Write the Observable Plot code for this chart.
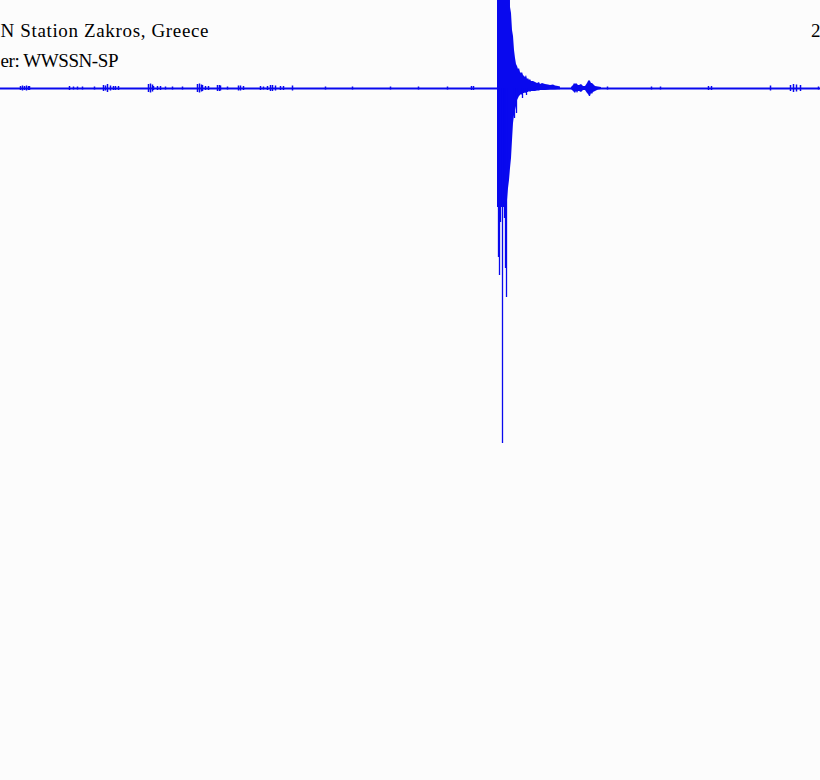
<!DOCTYPE html>
<html>
<head>
<meta charset="utf-8">
<script src="https://cdn.jsdelivr.net/npm/d3@7"></script>
<script src="https://cdn.jsdelivr.net/npm/@observablehq/plot@0.6"></script>
<style>
  html, body { margin: 0; padding: 0; background: #fcfcfc; }
  #chart svg { display: block; }
</style>
</head>
<body>
<div id="chart"></div>
<script>
// ---- Text ----
const titleText = "N Station Zakros, Greece";
const filterText = "er: WWSSN-SP";
const cornerText = "2";

// ---- Time window (s) and amplitude window (counts) ----
const timeDomain = [0, 820];
const ampDomain = [-692, 88];

// ---- Main event envelope (time, upper, lower) ----
const envT  = [497, 505, 507, 508, 509, 509.6, 510, 511, 512, 513, 514, 515, 516, 517, 518, 519, 520, 521, 522, 523, 524, 525, 526, 527, 528, 529, 530, 531, 533, 535, 537, 539, 540, 542, 545, 548, 550, 553, 555, 558, 560];
const envHi = [200, 200, 200, 200, 200, 200, 81, 75, 58, 52, 38, 30, 24, 22, 19, 20, 16, 15, 16, 13, 12, 11, 13, 9, 10, 8, 9, 7, 7, 6, 5, 6, 4, 5, 4, 3.5, 3, 3.5, 2.5, 2, 1.5];
const envLo = [-119, -119, -112, -100, -92, -85, -80, -70, -52, -35, -27, -22, -18, -12, -10, -8, -7, -6, -7, -5, -5, -4.5, -5, -4, -4, -3, -4, -3, -3, -3, -2.5, -2.5, -2, -2, -2, -1.8, -1.6, -1.5, -1.4, -1.3, -1.2];

// ---- Single downward spikes of the main event ----
const spikeT  = [498, 499, 500, 502, 504, 505, 506, 514, 516, 522, 526];
const spikeLo = [-169, -187, -134, -355, -130, -180, -209, -30, -25, -10, -7];

// ---- Later arrival burst ----
const burstT  = [571, 573, 574, 575, 576, 577, 578, 579, 581, 583, 585, 587, 588, 589, 590, 591, 592, 593, 595, 598, 601];
const burstHi = [1, 3, 5, 4, 5, 4, 3, 3, 4, 2, 2, 5, 7, 8, 7, 5, 5, 4, 2, 1.5, 1];
const burstLo = [-1, -3, -4, -5, -3, -5, -3, -3, -4, -2, -2, -5, -6, -8, -8, -5, -6, -4, -3, -1.5, -1];

// ---- Background noise blips (time, half amplitude) ----
const blipT   = [20, 22, 24, 26, 28, 29, 69, 73, 77, 82, 94, 103, 105, 107, 110, 113, 115, 118,
                 148, 150, 152, 153, 157, 160, 165, 172, 182, 197, 199, 201, 202, 205, 208, 217, 219, 220, 227, 238, 240, 243,
                 260, 263, 267, 270, 272, 275, 280, 283, 292, 325, 352, 390, 418, 447, 471, 473,
                 607, 651, 660, 708, 711, 770, 790, 793, 796, 800, 818];
const blipAmp = [2, 2.5, 2, 2.5, 2, 2, 2, 1.5, 1.5, 1.5, 1.5, 3, 2.5, 4, 2.5, 2, 2, 2,
                 4, 4.5, 3.5, 2, 2, 2, 1.5, 1.5, 1.5, 4, 4.5, 3.5, 3, 2, 2, 3, 3, 2.5, 1.5, 2.5, 2.5, 2,
                 2, 1.5, 2, 3, 3, 2.5, 2, 2, 2.5, 1.5, 1.5, 1.5, 1.5, 1.5, 2, 2,
                 1.5, 1.5, 1.5, 2, 2, 2.5, 3, 4, 3.5, 3, 1.5];

const env = envT.map((t, i) => ({t, hi: envHi[i], lo: envLo[i]}));
const spikes = spikeT.map((t, i) => ({t, lo: spikeLo[i]}));
const burst = burstT.map((t, i) => ({t, hi: burstHi[i], lo: burstLo[i]}));
const blips = blipT.map((t, i) => ({t, a: blipAmp[i]}));

const blue = "#0909ee";
const font = "Liberation Serif";

const chart = Plot.plot({
  width: 820,
  height: 780,
  margin: 0,
  x: {domain: timeDomain, axis: null},
  y: {domain: ampDomain, axis: null},
  style: {background: "#fcfcfc"},
  marks: [
    Plot.ruleY([0], {stroke: blue, strokeWidth: 2.2}),
    Plot.ruleX(blips, {x: "t", y1: d => -d.a, y2: d => d.a, stroke: blue, strokeWidth: 1.5}),
    Plot.areaY(env, {x: "t", y1: "lo", y2: "hi", fill: blue, clip: true}),
    Plot.ruleX(spikes, {x: "t", y1: 0, y2: "lo", stroke: blue, strokeWidth: 1.3, clip: true}),
    Plot.areaY(burst, {x: "t", y1: "lo", y2: "hi", fill: blue}),
    Plot.text([titleText], {text: d => d, frameAnchor: "top-left", dy: 36, lineAnchor: "bottom", textAnchor: "start", fontSize: 19, fontFamily: font, fill: "#000", className: "t-title"}),
    Plot.text([filterText], {text: d => d, frameAnchor: "top-left", dy: 66, lineAnchor: "bottom", textAnchor: "start", fontSize: 19, fontFamily: font, fill: "#000", className: "t-filter"}),
    Plot.text([cornerText], {text: d => d, frameAnchor: "top-right", dy: 36, lineAnchor: "bottom", textAnchor: "end", fontSize: 19, fontFamily: font, fill: "#000"})
  ]
});
// stretch the header lines to about the widths they take in the reference
const fit = (cls, len) => {
  chart.querySelectorAll("." + cls + " text").forEach(t => {
    t.setAttribute("textLength", len);
    t.setAttribute("lengthAdjust", "spacing");
  });
};
fit("t-title", 208);
fit("t-filter", 118);
document.getElementById("chart").appendChild(chart);
</script>
</body>
</html>
